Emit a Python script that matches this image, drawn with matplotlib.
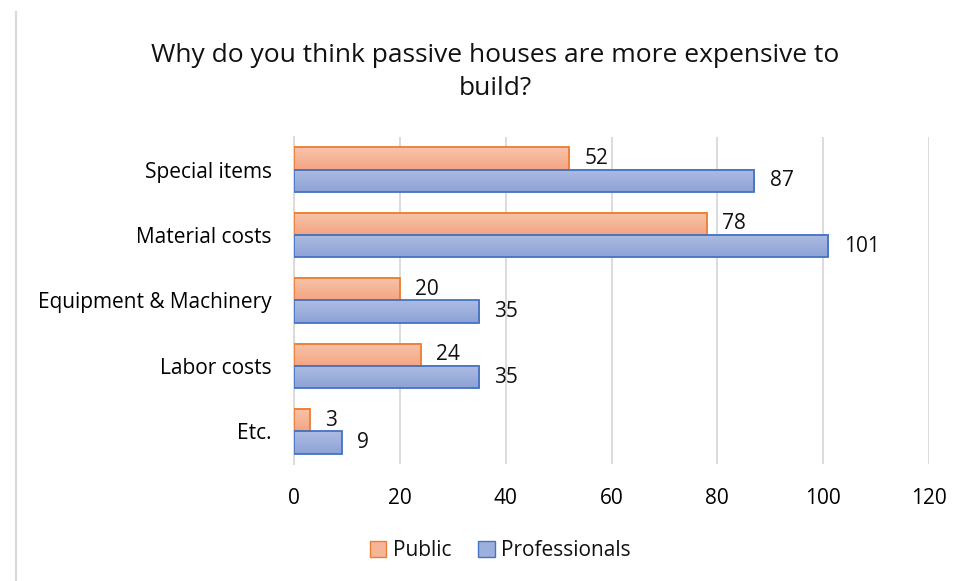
import numpy as np
import matplotlib.pyplot as plt
from matplotlib.colors import LinearSegmentedColormap
from matplotlib.patches import Patch
from matplotlib.lines import Line2D

categories = ['Special items', 'Material costs', 'Equipment & Machinery', 'Labor costs', 'Etc.']
public = [52, 78, 20, 24, 3]
professionals = [87, 101, 35, 35, 9]
x_ticks = [0, 20, 40, 60, 80, 100, 120]

plt.rcParams['font.family'] = ['Open Sans', 'DejaVu Sans']
plt.rcParams['text.color'] = '#111111'

fig = plt.figure(figsize=(9.73, 5.81), dpi=100)
ax = fig.add_axes([0.3022, 0.2014, 0.6526, 0.5628])

y = np.arange(len(categories))[::-1]
h = 0.34
lab_size = 15


def grad_bars(ypos, vals, c_top, c_bot, edge):
    # vertical gradient fill drawn under each bar outline
    cmap = LinearSegmentedColormap.from_list('g', [c_bot, c_top])
    grad = np.linspace(0, 1, 64).reshape(-1, 1)
    bars = ax.barh(ypos, vals, height=h, facecolor='none', edgecolor=edge,
                   linewidth=1.3, zorder=3)
    for bar, v in zip(bars, vals):
        x0, y0 = bar.get_x(), bar.get_y()
        ax.imshow(grad, extent=[x0, x0 + bar.get_width(), y0, y0 + bar.get_height()],
                  origin='lower', cmap=cmap, aspect='auto', zorder=2)
        ax.annotate(str(v), (v, y0 + bar.get_height() / 2), xytext=(11, 0),
                    textcoords='offset points', va='center', ha='left',
                    fontsize=lab_size)
    return bars


grad_bars(y + h / 2, public, '#F8C4AA', '#F3A582', '#ED7D31')
grad_bars(y - h / 2, professionals, '#ADBCE2', '#8DA2D6', '#4472C4')

ax.set_xlim(0, 120)
ax.set_ylim(-0.5, 4.5)
ax.set_xticks(x_ticks)
ax.set_yticks(y)
ax.set_yticklabels(categories)
ax.tick_params(length=0, labelsize=lab_size)
ax.tick_params(axis='x', pad=17)
ax.tick_params(axis='y', pad=16)
ax.grid(axis='x', color='#D9D9D9', linewidth=1.3)
ax.set_axisbelow(True)
for s in ['top', 'right', 'bottom']:
    ax.spines[s].set_visible(False)
ax.spines['left'].set_color('#D9D9D9')
ax.spines['left'].set_linewidth(1.3)

fig.text(0.509, 1 - 72 / 581,
         'Why do you think passive houses are more expensive to\nbuild?',
         ha='center', va='center', fontsize=19, linespacing=1.45)

handles = [Patch(facecolor='#F5B596', edgecolor='#ED7D31'),
           Patch(facecolor='#9DAFDD', edgecolor='#4472C4')]
fig.legend(handles, ['Public', 'Professionals'], loc='center',
           bbox_to_anchor=(0.514, 0.052), ncol=2, frameon=False,
           handlelength=0.8, handleheight=0.8, handletextpad=0.3,
           columnspacing=1.3, fontsize=lab_size)

fig.add_artist(Line2D([16 / 973, 16 / 973], [0, 1 - 12 / 581],
                      transform=fig.transFigure, color='#D9D9D9', linewidth=1.5))

fig.savefig('out.png', dpi=100)
